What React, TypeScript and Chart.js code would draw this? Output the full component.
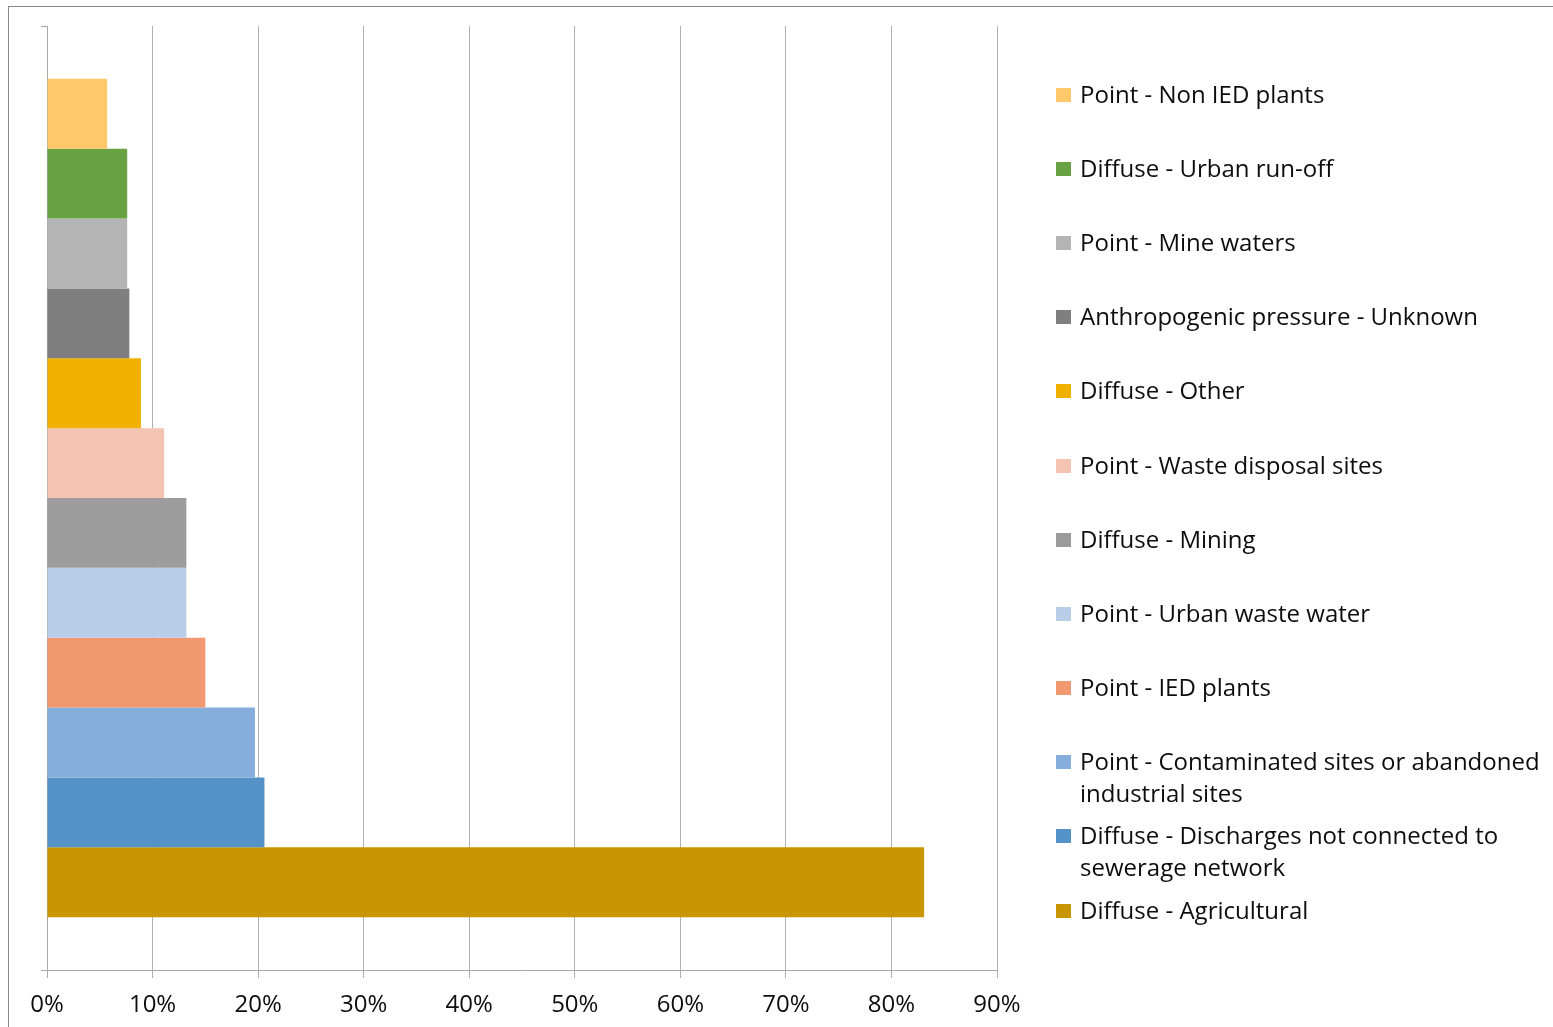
import React, { useEffect, useRef } from "react";
import { Chart, registerables } from "chart.js";

Chart.register(...registerables);

const categories = [""];

const seriesNames = [
  "Point - Non IED plants",
  "Diffuse - Urban run-off",
  "Point - Mine waters",
  "Anthropogenic pressure - Unknown",
  "Diffuse - Other",
  "Point - Waste disposal sites",
  "Diffuse - Mining",
  "Point - Urban waste water",
  "Point - IED plants",
  "Point - Contaminated sites or abandoned industrial sites",
  "Diffuse - Discharges not connected to sewerage network",
  "Diffuse - Agricultural",
];

const seriesValues = [5.7, 7.6, 7.6, 7.8, 8.9, 11.1, 13.2, 13.2, 15.0, 19.7, 20.6, 83.1];

const seriesColors = [
  "#FFC86B",
  "#69A243",
  "#B4B4B4",
  "#7F7F7F",
  "#F0B100",
  "#F4C3B1",
  "#9C9C9C",
  "#B8CDE8",
  "#F0986F",
  "#85AEDC",
  "#5592C7",
  "#C89600",
];

const xMin = 0;
const xMax = 90;
const xStep = 10;

const FONT = "'Open Sans', sans-serif";

export default function App() {
  const canvasRef = useRef<HTMLCanvasElement | null>(null);

  useEffect(() => {
    if (!canvasRef.current) return;
    const chart = new Chart(canvasRef.current, {
      type: "bar",
      data: {
        labels: categories,
        datasets: seriesNames.map((name, i) => ({
          label: name,
          data: [seriesValues[i]],
          backgroundColor: seriesColors[i],
          borderWidth: 0,
          categoryPercentage: 0.888,
          barPercentage: 1,
        })),
      },
      options: {
        indexAxis: "y",
        animation: false,
        responsive: true,
        maintainAspectRatio: false,
        layout: { padding: { top: 26, right: 556, left: 0, bottom: 0 } },
        plugins: {
          legend: { display: false },
          tooltip: { enabled: false },
        },
        scales: {
          x: {
            type: "linear",
            min: xMin,
            max: xMax,
            ticks: {
              stepSize: xStep,
              callback: (v: any) => `${v}%`,
              color: "#0d0d0d",
              font: { family: FONT, size: 24 },
              padding: 13,
            },
            grid: {
              color: "#b0b0b0",
              lineWidth: 1,
              drawTicks: true,
              tickLength: 8,
              tickColor: "#b0b0b0",
            },
            border: { display: true, color: "#a8a8a8", width: 1 },
            afterFit: (scale: any) => {
              scale.height = 57;
            },
          },
          y: {
            type: "category",
            offset: true,
            ticks: { display: false },
            grid: {
              offset: true,
              drawOnChartArea: false,
              drawTicks: true,
              tickLength: 6,
              color: "#a8a8a8",
            },
            border: { display: true, color: "#a8a8a8", width: 1 },
            afterFit: (scale: any) => {
              scale.width = 47;
            },
          },
        },
      },
    });
    return () => chart.destroy();
  }, []);

  return (
    <div
      style={{
        position: "fixed",
        left: 0,
        top: 0,
        width: 1553,
        height: 1027,
        overflow: "hidden",
        background: "#fff",
      }}
    >
      <div
        style={{
          position: "absolute",
          left: 8,
          top: 6,
          width: 1700,
          height: 1200,
          borderTop: "1px solid #8a8a8a",
          borderLeft: "1px solid #8a8a8a",
        }}
      />
      <div style={{ position: "absolute", left: 0, top: 0, width: 1553, height: 1027 }}>
        <canvas ref={canvasRef} />
      </div>
      {seriesNames.map((name, i) => (
        <div
          key={name}
          style={{
            position: "absolute",
            left: 1056,
            top: 77.6 + i * 74.18,
            width: 500,
            fontFamily: FONT,
            fontSize: 24,
            lineHeight: "32px",
            color: "#0d0d0d",
          }}
        >
          <div
            style={{
              position: "absolute",
              left: 0,
              top: 10,
              width: 15,
              height: 14,
              background: seriesColors[i],
            }}
          />
          <div style={{ marginLeft: 24, width: 472 }}>{name}</div>
        </div>
      ))}
    </div>
  );
}
